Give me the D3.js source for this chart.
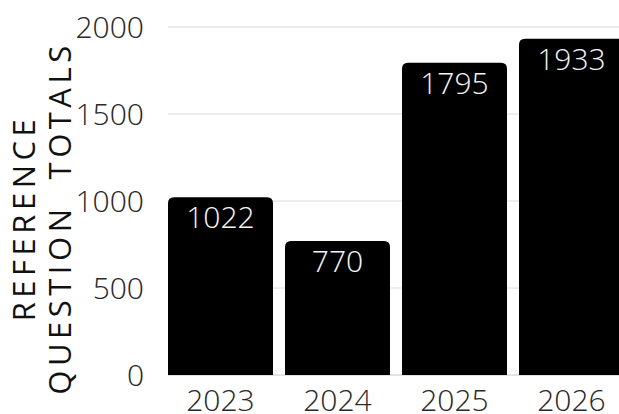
<!DOCTYPE html>
<html>
<head>
<meta charset="utf-8">
<script src="https://cdn.jsdelivr.net/npm/d3@7"></script>
<style>
  html, body { margin: 0; padding: 0; background: #fff; }
  svg { display: block; }
</style>
</head>
<body>
<svg id="chart" width="619" height="414"></svg>
<script>
const categories = ["2023", "2024", "2025", "2026"];
const values = [1022, 770, 1795, 1933];
const yTicks = [0, 500, 1000, 1500, 2000];
const titleLines = ["REFERENCE", "QUESTION  TOTALS"];

const svg = d3.select("#chart");
const W = 619, H = 414;

const x = d3.scaleBand()
  .domain(categories)
  .range([162, 630])
  .paddingInner(12 / 117)
  .paddingOuter(6 / 117);

const y = d3.scaleLinear().domain([0, 2000]).range([375, 27]);

const lightFont = "'Open Sans Light', 'Open Sans', sans-serif";
const font = "'Open Sans', sans-serif";

// gridlines
svg.append("g").selectAll("line")
  .data(yTicks)
  .join("line")
  .attr("x1", 168).attr("x2", W)
  .attr("y1", d => y(d)).attr("y2", d => y(d))
  .attr("stroke", d => d === 0 ? "#c8c8c8" : "#dcdcdc")
  .attr("stroke-width", 1);

// y tick labels
svg.append("g").selectAll("text")
  .data(yTicks)
  .join("text")
  .attr("x", 144)
  .attr("y", d => y(d))
  .attr("dy", "0.36em")
  .attr("text-anchor", "end")
  .attr("font-family", lightFont)
  .attr("font-weight", 300)
  .attr("font-size", 30)
  .attr("fill", "#2a2a2a")
  .text(d => d);

// bars with rounded top corners
const r = 6;
function barPath(x0, w, y0, y1) {
  return `M${x0},${y1}V${y0 + r}Q${x0},${y0} ${x0 + r},${y0}H${x0 + w - r}Q${x0 + w},${y0} ${x0 + w},${y0 + r}V${y1}Z`;
}
svg.append("g").selectAll("path")
  .data(values)
  .join("path")
  .attr("d", (d, i) => barPath(x(categories[i]), x.bandwidth(), y(d), y(0)))
  .attr("fill", "#000");

// value labels
svg.append("g").selectAll("text")
  .data(values)
  .join("text")
  .attr("x", (d, i) => x(categories[i]) + x.bandwidth() / 2)
  .attr("y", d => y(d) + 31)
  .attr("text-anchor", "middle")
  .attr("font-family", lightFont)
  .attr("font-weight", 300)
  .attr("font-size", 30)
  .attr("fill", "#f4f4f4")
  .text(d => d);

// x labels
svg.append("g").selectAll("text")
  .data(categories)
  .join("text")
  .attr("x", d => x(d) + x.bandwidth() / 2)
  .attr("y", 411)
  .attr("text-anchor", "middle")
  .attr("font-family", lightFont)
  .attr("font-weight", 300)
  .attr("font-size", 30)
  .attr("fill", "#2a2a2a")
  .text(d => d);

// y title
const title = svg.append("g").attr("transform", "translate(0,220) rotate(-90)");
title.selectAll("text")
  .data(titleLines)
  .join("text")
  .attr("x", 2)
  .attr("y", (d, i) => 35 + i * 36)
  .attr("text-anchor", "middle")
  .attr("font-family", font)
  .attr("font-weight", 400)
  .attr("font-size", 31)
  .attr("letter-spacing", 4.5)
  .attr("fill", "#111")
  .style("white-space", "pre")
  .text(d => d);
</script>
</body>
</html>
